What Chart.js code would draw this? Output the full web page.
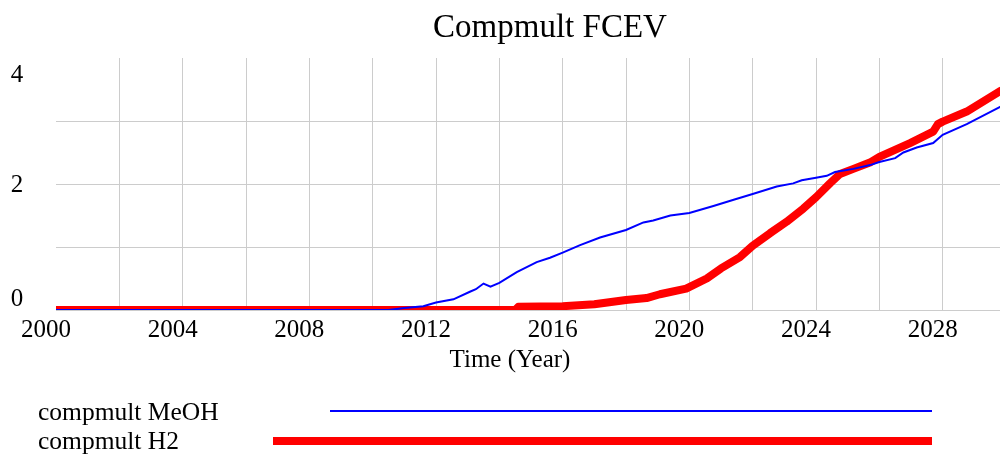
<!DOCTYPE html>
<html>
<head>
<meta charset="utf-8">
<script src="https://cdn.jsdelivr.net/npm/chart.js@4/dist/chart.umd.min.js"></script>
<style>
  html, body { margin: 0; padding: 0; background: #fff; overflow: hidden; }
  #wrap { position: relative; width: 1000px; height: 455px; overflow: hidden; }
</style>
</head>
<body>
<div id="wrap">
  <canvas id="fcevChart" width="1012" height="455"></canvas>
</div>
<script>
// data
var meohYears = [2000, 2010.5, 2011, 2011.6, 2012, 2012.55, 2013.07, 2013.26, 2013.5, 2013.72, 2014, 2014.55, 2015.18, 2015.6, 2016, 2016.55, 2017.18, 2018, 2018.55, 2018.86, 2019.4, 2020, 2020.76, 2021.4, 2022, 2022.76, 2023.28, 2023.55, 2024, 2024.34, 2024.6, 2025.18, 2025.71, 2026, 2026.5, 2026.76, 2027.18, 2027.7, 2028, 2028.76, 2029.8, 2030];
var meohValues = [0, 0, 0.03, 0.06, 0.12, 0.17, 0.29, 0.33, 0.42, 0.37, 0.43, 0.6, 0.76, 0.83, 0.91, 1.03, 1.15, 1.27, 1.39, 1.42, 1.5, 1.54, 1.65, 1.75, 1.84, 1.96, 2.01, 2.06, 2.1, 2.13, 2.19, 2.24, 2.3, 2.35, 2.41, 2.5, 2.58, 2.65, 2.78, 2.95, 3.22, 3.27];

var h2Years = [2000, 2014.5, 2014.6, 2016, 2017, 2018, 2018.65, 2019.07, 2019.9, 2020.55, 2021, 2021.6, 2022, 2022.55, 2023.07, 2023.6, 2024, 2024.44, 2024.76, 2025.18, 2025.7, 2026, 2026.97, 2027.7, 2027.85, 2028, 2028.76, 2029.8, 2030];
var h2Values = [0, 0, 0.05, 0.06, 0.09, 0.16, 0.19, 0.25, 0.34, 0.5, 0.66, 0.84, 1.02, 1.22, 1.4, 1.61, 1.79, 2.01, 2.16, 2.24, 2.34, 2.43, 2.65, 2.83, 2.95, 2.99, 3.15, 3.47, 3.52];

var yLabels = [0, 2, 4];
var seriesNames = ["compmult MeOH", "compmult H2"];

function toPoints(xs, ys) {
  return xs.map(function (x, i) { return { x: x, y: ys[i] }; });
}

var serif = "'Liberation Serif', 'Times New Roman', serif";

// texts and legend drawn the Vensim way
var extras = {
  id: "extras",
  afterDraw: function (chart) {
    var c = chart.ctx;
    var yScale = chart.scales.y;
    c.save();
    c.fillStyle = "#000";

    c.font = "33px " + serif;
    c.textAlign = "center";
    c.textBaseline = "alphabetic";
    c.fillText("Compmult FCEV", 550, 37);

    c.font = "25px " + serif;
    c.fillText("Time (Year)", 510, 367);

    // y labels: top pushed down, bottom pushed up
    c.textBaseline = "middle";
    yLabels.forEach(function (v) {
      var py = yScale.getPixelForValue(v);
      if (v === yScale.max) py += 17;
      else if (v === yScale.min) py -= 11;
      else py += 1;
      c.fillText(String(v), 17, py);
    });

    // legend
    c.textAlign = "left";
    c.textBaseline = "alphabetic";
    c.font = "25.5px " + serif;
    c.fillText(seriesNames[0], 38, 420);
    c.fillText(seriesNames[1], 38, 449);

    c.lineCap = "butt";
    c.strokeStyle = "#0000ff";
    c.lineWidth = 2;
    c.beginPath();
    c.moveTo(330, 411);
    c.lineTo(932, 411);
    c.stroke();

    c.strokeStyle = "#ff0000";
    c.lineWidth = 8;
    c.beginPath();
    c.moveTo(273, 441);
    c.lineTo(932, 441);
    c.stroke();
    c.restore();
  }
};

var ctx = document.getElementById("fcevChart").getContext("2d");

var chart = new Chart(ctx, {
  type: "line",
  data: {
    datasets: [
      {
        label: seriesNames[0],
        data: toPoints(meohYears, meohValues),
        borderColor: "#0000ff",
        borderWidth: 2,
        pointRadius: 0,
        tension: 0,
      },
      {
        label: seriesNames[1],
        data: toPoints(h2Years, h2Values),
        borderColor: "#ff0000",
        borderWidth: 8,
        pointRadius: 0,
        tension: 0,
        borderJoinStyle: "round",
      },
    ],
  },
  options: {
    responsive: false,
    animation: false,
    layout: { padding: { top: 58, left: 0, right: 6, bottom: 0 } },
    plugins: {
      legend: { display: false },
      title: { display: false },
      tooltip: { enabled: false },
    },
    scales: {
      x: {
        type: "linear",
        min: 2000,
        max: 2030,
        afterFit: function (scale) { scale.height = 145; },
        border: { display: false },
        grid: {
          drawTicks: false,
          color: function (c) {
            return c.tick && c.tick.value === 2000 ? "rgba(0,0,0,0)" : "#cccccc";
          },
        },
        ticks: {
          stepSize: 2,
          autoSkip: false,
          maxRotation: 0,
          padding: 5,
          labelOffset: -10,
          color: "#000",
          font: { family: serif, size: 25 },
          callback: function (v) {
            return v % 4 === 0 && v < 2030 ? String(v) : "";
          },
        },
      },
      y: {
        min: 0,
        max: 4,
        afterFit: function (scale) { scale.width = 56; },
        border: { display: false },
        grid: {
          drawTicks: false,
          color: function (c) {
            return c.tick && c.tick.value === 4 ? "rgba(0,0,0,0)" : "#cccccc";
          },
        },
        ticks: { stepSize: 1, display: false },
      },
    },
  },
  plugins: [extras],
});
</script>
</body>
</html>
